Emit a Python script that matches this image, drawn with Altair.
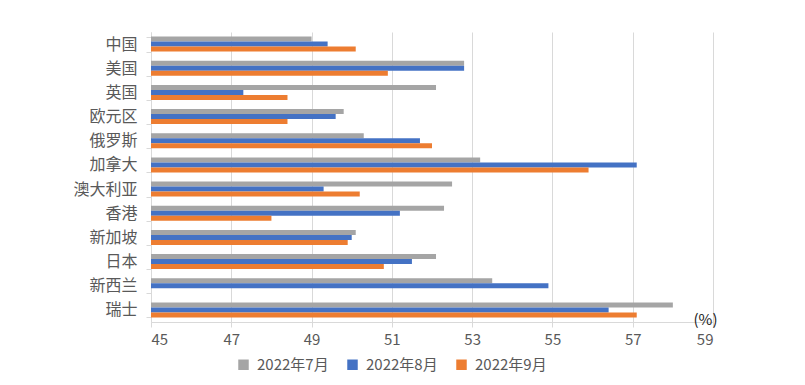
import altair as alt
import pandas as pd

categories = ["中国", "美国", "英国", "欧元区", "俄罗斯", "加拿大", "澳大利亚", "香港", "新加坡", "日本", "新西兰", "瑞士"]
series = ["2022年7月", "2022年8月", "2022年9月"]
jul = [49.0, 52.8, 52.1, 49.8, 50.3, 53.2, 52.5, 52.3, 50.1, 52.1, 53.5, 58.0]
aug = [49.4, 52.8, 47.3, 49.6, 51.7, 57.1, 49.3, 51.2, 50.0, 51.5, 54.9, 56.4]
sep = [50.1, 50.9, 48.4, 48.4, 52.0, 55.9, 50.2, 48.0, 49.9, 50.8, None, 57.1]
x_ticks = [45, 47, 49, 51, 53, 55, 57, 59]
colors = ["#A5A5A5", "#4472C4", "#ED7D31"]

rows = []
for s, vals in zip(series, [jul, aug, sep]):
    for c, v in zip(categories, vals):
        if v is not None:
            rows.append({"地区": c, "月份": s, "值": v})
df = pd.DataFrame(rows)

FONT = "Noto Sans CJK SC"
TXT = "#595959"
GRID = "#D9D9D9"

chart = alt.Chart(df).mark_bar(clip=True).encode(
    y=alt.Y("地区:N", sort=categories,
            scale=alt.Scale(paddingInner=0.38, paddingOuter=0.19),
            axis=alt.Axis(title=None, labelFontSize=16, labelColor=TXT, labelFont=FONT,
                          labelPadding=9, domainColor=GRID, tickColor=GRID, tickSize=5,
                          tickBand="extent", grid=False)),
    yOffset=alt.YOffset("月份:N", sort=series),
    x=alt.X("值:Q", scale=alt.Scale(domain=[45, 59], nice=False, zero=False),
            axis=alt.Axis(values=x_ticks, title="(%)", titleX=554, titleY=-3,
                          titleAlign="center", titleBaseline="middle", titleFontSize=15,
                          titleFontWeight="normal", titleColor="#222222", titleFont=FONT,
                          labelFontSize=15, labelColor=TXT, labelFont=FONT, labelPadding=5,
                          gridColor=GRID, domainColor=GRID, tickColor=GRID, tickSize=5)),
    x2=alt.datum(45),
    color=alt.Color("月份:N", sort=series,
                    scale=alt.Scale(domain=series, range=colors),
                    legend=alt.Legend(title=None, orient="none", direction="horizontal",
                                      legendX=85, legendY=325, symbolType="square",
                                      symbolSize=110, symbolStrokeWidth=0,
                                      labelFontSize=15, labelColor=TXT, labelFont=FONT,
                                      labelOffset=6, columnPadding=16)),
).properties(
    width=562, height=290,
    autosize=alt.AutoSizeParams(type="none"),
    padding={"left": 143, "top": 24, "right": 80, "bottom": 55},
).configure_view(stroke=None)

chart.save("out.html", embed_options={"renderer": "svg", "actions": False})
